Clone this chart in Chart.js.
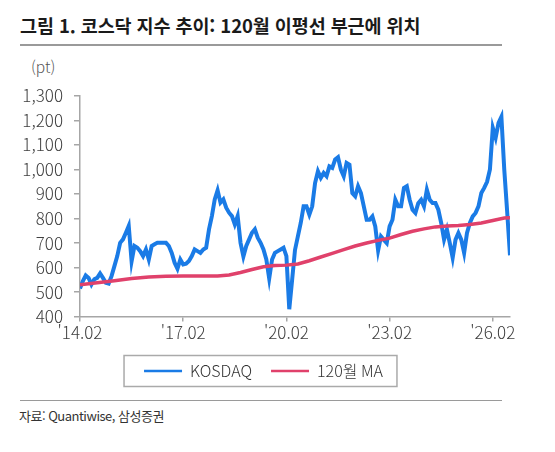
<!DOCTYPE html>
<html lang="ko">
<head>
<meta charset="utf-8">
<script src="https://cdn.jsdelivr.net/npm/chart.js@4.4.1/dist/chart.umd.min.js"></script>
<style>
  body { margin: 0; width: 555px; height: 452px; background: #fff; position: relative; overflow: hidden;
         font-family: "Noto Sans CJK KR", "Noto Sans", sans-serif; }
  #title { position: absolute; left: 20px; top: 13px; font-size: 18.5px; font-weight: bold; color: #1a1a1a;
           letter-spacing: -0.1px; line-height: 24px; white-space: nowrap; }
  #ruleTop { position: absolute; left: 20px; top: 44px; width: 482px; height: 2px; background: #9a9a9a; }
  #unit { position: absolute; left: 31px; top: 56px; font-size: 15.5px; font-weight: 300; color: #555; line-height: 20px; }
  #wrap { position: absolute; left: 0; top: 50px; width: 521px; height: 345px; }
  #ruleBottom { position: absolute; left: 20px; top: 400px; width: 482px; height: 1px; background: #9a9a9a; }
  #source { position: absolute; left: 19px; top: 407px; font-size: 13px; color: #333; letter-spacing: -0.5px;
            line-height: 18px; white-space: nowrap; }
</style>
</head>
<body>
<div id="title">그림 1. 코스닥 지수 추이: 120월 이평선 부근에 위치</div>
<div id="ruleTop"></div>
<div id="unit">(pt)</div>
<div id="wrap"><canvas id="chart"></canvas></div>
<div id="ruleBottom"></div>
<div id="source">자료: Quantiwise, 삼성증권</div>
<script>
// x axis is months since Feb 2014
const tickMonths = [0, 36, 72, 108, 144];
const tickLabels = ["'14.02", "'17.02", "'20.02", "'23.02", "'26.02"];

// KOSDAQ, one value per month
const kosdaq = [
  515, 545, 568, 558, 531, 552, 558, 576, 558, 538, 535, 565,
  606, 647, 701, 715, 742, 770, 625, 688, 681, 667, 647, 674,
  633, 688, 695, 701, 701, 701, 701, 688, 660, 620, 595, 633,
  613, 616, 627, 647, 674, 667, 660, 674, 681, 756, 810, 878,
  915, 865, 878, 844, 824, 810, 776, 810, 701, 645, 688, 715,
  742, 756, 722, 701, 674, 633, 555, 633, 660, 667, 674, 681,
  647, 430, 550, 672, 727, 782, 850, 850, 816, 850, 945, 993,
  966, 986, 973, 1013, 1007, 1041, 1050, 1000, 973, 1027, 1020, 904,
  891, 932, 904, 850, 795, 795, 809, 768, 670, 727, 713, 700,
  768, 795, 877, 850, 850, 925, 932, 877, 836, 823, 863, 877,
  850, 918, 877, 863, 863, 836, 782, 714, 755, 700, 640, 714,
  741, 714, 660, 741, 782, 809, 823, 850, 904, 925, 950, 1000,
  1170, 1130, 1190, 1215, 1000, 830, 650
];

// 120-month moving average
const maMonths = [0, 6, 12, 18, 24, 30, 36, 48, 52, 56, 60, 64, 68, 72, 76, 80, 84, 88,
                  92, 96, 100, 104, 108, 112, 116, 120, 124, 128, 132, 136, 140, 144, 148, 150];
const maValues = [530, 538, 546, 555, 562, 565, 566, 566, 570, 580, 592, 603, 608, 610, 615, 628, 643, 658,
                  673, 688, 700, 711, 720, 735, 748, 758, 766, 770, 772, 776, 782, 792, 802, 803];

const blue = "#1a7be6";
const pink = "#e0416b";
const tickFont = { family: "Noto Sans CJK KR", size: 17, weight: "300" };
const legendFont = { family: "Noto Sans CJK KR", size: 16, weight: "300" };

// grey frame round the legend
const legendFrame = {
  id: "legendFrame",
  afterDraw(chart) {
    const boxes = chart.legend.legendHitBoxes;
    if (!boxes || !boxes.length) return;
    const first = boxes[0];
    const last = boxes[boxes.length - 1];
    const cy = first.top + first.height / 2;
    const left = first.left - 20;
    const right = last.left + last.width + 14;
    const ctx = chart.ctx;
    ctx.save();
    ctx.strokeStyle = "#aaaaaa";
    ctx.lineWidth = 1.5;
    ctx.strokeRect(left, cy - 15.5, right - left, 31);
    ctx.restore();
  }
};

new Chart(document.getElementById("chart"), {
  type: "line",
  data: {
    datasets: [
      {
        label: "KOSDAQ",
        data: kosdaq.map((v, i) => ({ x: i, y: v })),
        borderColor: blue,
        backgroundColor: blue,
        borderWidth: 4,
        pointRadius: 0,
        tension: 0,
        order: 1
      },
      {
        label: "120월 MA",
        data: maMonths.map((m, i) => ({ x: m, y: maValues[i] })),
        borderColor: pink,
        backgroundColor: pink,
        borderWidth: 3.5,
        pointRadius: 0,
        tension: 0,
        order: 0
      }
    ]
  },
  options: {
    responsive: true,
    maintainAspectRatio: false,
    animation: false,
    layout: { padding: { left: 17, right: 11, top: 46, bottom: 6 } },
    scales: {
      x: {
        type: "linear",
        min: 0,
        max: 150,
        afterBuildTicks: s => { s.ticks = tickMonths.map(v => ({ value: v })); },
        ticks: {
          callback: (v, i) => tickLabels[i],
          autoSkip: false,
          maxRotation: 0,
          padding: 1,
          color: "#404040",
          font: tickFont
        },
        grid: { drawOnChartArea: false, tickLength: 5, color: "#a6a6a6", lineWidth: 1.5 },
        border: { color: "#a6a6a6", width: 1.5 }
      },
      y: {
        min: 400,
        max: 1300,
        afterFit: s => { s.width = 63; },
        ticks: {
          stepSize: 100,
          callback: v => v.toLocaleString("en-US"),
          padding: 11,
          color: "#404040",
          font: tickFont
        },
        grid: { drawOnChartArea: false, tickLength: 6, color: "#a6a6a6", lineWidth: 1.5 },
        border: { color: "#a6a6a6", width: 1.5 }
      }
    },
    plugins: {
      legend: {
        position: "bottom",
        labels: {
          usePointStyle: true,
          pointStyleWidth: 38,
          padding: 19,
          color: "#333",
          font: legendFont,
          sort: (a, b) => a.datasetIndex - b.datasetIndex,
          generateLabels: chart =>
            Chart.defaults.plugins.legend.labels.generateLabels(chart).map(l => ({
              ...l, pointStyle: "line", lineWidth: 2.5
            }))
        }
      },
      tooltip: { enabled: false }
    }
  },
  plugins: [legendFrame]
});
</script>
</body>
</html>
